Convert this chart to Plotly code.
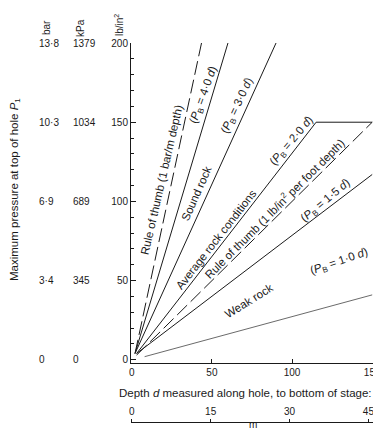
import plotly.graph_objects as go

# ---------------- data ----------------
depth_ticks_ft = [0, 50, 100, 150]
depth_ticks_m = [0, 15, 30, 45]
p_ticks_psi = [0, 50, 100, 150, 200]
p_labels_bar = ["0", "3·4", "6·9", "10·3", "13·8"]
p_labels_kpa = ["0", "345", "689", "1034", "1379"]

# lines (depth ft, pressure lb/in2)
bar_rule_d = [2, 43.5]
bar_rule_p = [4, 200]
p40_d = [2, 60]
p40_p = [4, 200]
p30_d = [2, 90]
p30_p = [4, 200]
p20_d = [3, 115, 150]
p20_p = [4, 150, 150]
psi_rule_d = [3, 150]
psi_rule_p = [3, 150]
p15_d = [3, 150]
p15_p = [4, 117]
p10_d = [8, 150]
p10_p = [2, 41]

# labels along lines: text, depth, pressure, angle
label_text = [
    "Rule of thumb (1 bar/m depth)",
    "Sound rock",
    "(<i>P</i><sub>B</sub> = 4·0 <i>d</i>)",
    "(<i>P</i><sub>B</sub> = 3·0 <i>d</i>)",
    "Average rock conditions",
    "(<i>P</i><sub>B</sub> = 2·0 <i>d</i>)",
    "Rule of thumb (1 lb/in<sup>2</sup> per foot depth)",
    "(<i>P</i><sub>B</sub> = 1·5 <i>d</i>)",
    "Weak rock",
    "(<i>P</i><sub>B</sub> = 1·0 <i>d</i>)",
]
label_d = [18.6, 40, 45, 66, 53, 100, 89, 121, 73, 129]
label_p = [113.5, 105, 167, 160, 76, 138, 96, 100, 37, 62]
label_angle = [-77, -66, -70, -65, -52, -50, -45, -40, -32, -19]

# ---------------- figure ----------------
# page body has an 8px margin, so the figure is drawn 8px smaller and
# all screen positions below are given in window pixels.
OFF = 8
WIN_W, WIN_H = 381, 431
W, H = WIN_W - OFF, WIN_H - OFF
PL, PR, PT, PB = 131, 373, 43, 422          # plot area in window pixels
ML, MR, MT, MB = PL - OFF, WIN_W - PR, PT - OFF, WIN_H - PB
PW = PR - PL
PH = PB - PT
FONT = "Liberation Sans, Arial, Helvetica, sans-serif"
INK = "#1a1a1a"


def px_x(px):
    return (px - PL) / PW


def px_y(py):
    return (PB - py) / PH


fig = go.Figure()


def add_line(xs, ys, dash="solid", width=1.0, color=INK):
    fig.add_trace(go.Scatter(x=xs, y=ys, mode="lines",
                             line=dict(color=color, width=width, dash=dash),
                             hoverinfo="skip", showlegend=False))


add_line(bar_rule_d, bar_rule_p, dash="14px,5px")
add_line(p40_d, p40_p)
add_line(p30_d, p30_p)
add_line(p20_d, p20_p)
add_line(psi_rule_d, psi_rule_p, dash="14px,5px")
add_line(p15_d, p15_p)
add_line(p10_d, p10_p, width=0.8, color="#444")

# invisible trace to carry the metre axis
fig.add_trace(go.Scatter(x=[0, 45], y=[None, None], xaxis="x2", yaxis="y",
                         mode="markers", marker=dict(opacity=0),
                         hoverinfo="skip", showlegend=False))

ann = []
for t, d, p, a in zip(label_text, label_d, label_p, label_angle):
    ann.append(dict(x=d, y=p, xref="x", yref="y", text=t, showarrow=False,
                    xanchor="center", yanchor="middle",
                    textangle=a, font=dict(size=11.5, color=INK, family=FONT)))

# extra pressure columns
for v, b, k in zip(p_ticks_psi, p_labels_bar, p_labels_kpa):
    ann.append(dict(x=px_x(37), y=v, xref="paper", yref="y", text=b,
                    xanchor="left", yanchor="middle", showarrow=False,
                    font=dict(size=10, color=INK, family=FONT)))
    ann.append(dict(x=px_x(71), y=v, xref="paper", yref="y", text=k,
                    xanchor="left", yanchor="middle", showarrow=False,
                    font=dict(size=10, color=INK, family=FONT)))

# column headers
for txt, xp, yp in [("bar", 46, 28), ("kPa", 80, 28), ("lb/in<sup>2</sup>", 119, 25)]:
    ann.append(dict(x=px_x(xp), y=px_y(yp), xref="paper", yref="paper", text=txt,
                    xanchor="center", yanchor="middle",
                    textangle=-90, showarrow=False,
                    font=dict(size=10, color=INK, family=FONT)))

# y title
ann.append(dict(x=px_x(15), y=px_y(190), xref="paper", yref="paper",
                text="Maximum pressure at top of hole <i>P</i><sub>1</sub>",
                xanchor="center", yanchor="middle",
                textangle=-90, showarrow=False,
                font=dict(size=11.5, color=INK, family=FONT)))
# x title
ann.append(dict(x=px_x(117), y=px_y(393), xref="paper", yref="paper",
                text="Depth <i>d</i> measured along hole, to bottom of stage: ft",
                xanchor="left", yanchor="middle", showarrow=False,
                font=dict(size=11.5, color=INK, family=FONT)))
# metre unit
ann.append(dict(x=px_x(253), y=px_y(432), xref="paper", yref="paper",
                text="m", xanchor="center", yanchor="bottom", showarrow=False,
                font=dict(size=10, color=INK, family=FONT)))

ft_to_m = 0.3048
xr = [-0.5, 150.5]

fig.update_layout(
    width=W, height=H,
    margin=dict(l=ML, r=MR, t=MT, b=MB, pad=0, autoexpand=False),
    paper_bgcolor="white", plot_bgcolor="white",
    showlegend=False,
    font=dict(family=FONT, color=INK, size=10),
    xaxis=dict(range=xr, domain=[0, 1], anchor="y",
               tickvals=depth_ticks_ft, ticks="inside", ticklen=4,
               tickcolor=INK, showline=True, linecolor=INK, linewidth=1,
               showgrid=False, zeroline=False, automargin=False,
               tickfont=dict(size=10, color=INK, family=FONT)),
    yaxis=dict(range=[-2, 200], domain=[px_y(363), 1], anchor="x",
               tickvals=p_ticks_psi, ticks="inside", ticklen=5,
               tickcolor=INK, showline=True, linecolor=INK, linewidth=1,
               minor=dict(dtick=10, ticks="inside", ticklen=3, tickcolor=INK),
               showgrid=False, zeroline=False, automargin=False,
               tickfont=dict(size=10, color=INK, family=FONT)),
    xaxis2=dict(overlaying="x", anchor="free", position=0, side="top",
                range=[xr[0] * ft_to_m, xr[1] * ft_to_m],
                tickvals=depth_ticks_m, ticks="outside", ticklen=3,
                tickcolor=INK, showline=True, linecolor=INK, linewidth=1,
                showgrid=False, zeroline=False, automargin=False,
                tickfont=dict(size=10, color=INK, family=FONT)),
    annotations=ann,
)

fig.write_html("out.html")
